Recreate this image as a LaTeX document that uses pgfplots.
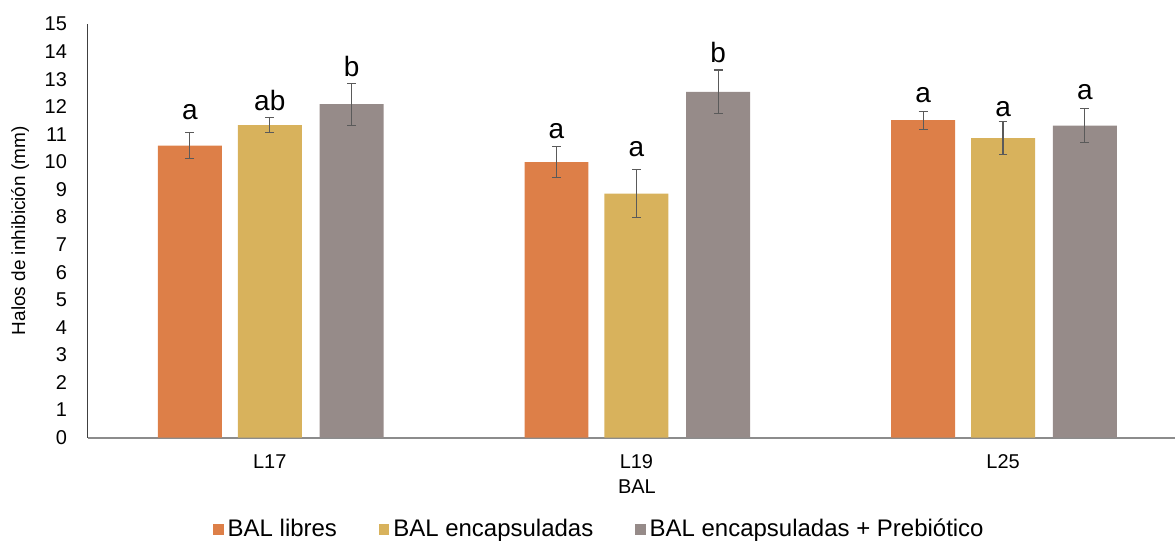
\documentclass[border=0pt]{standalone}
\usepackage{pgfplots}
\usepackage{pgfplotstable}
\pgfplotsset{compat=1.18}
\usepackage{fontspec}
\setmainfont{Liberation Sans}
\definecolor{cOr}{HTML}{DD7F48}
\definecolor{cYe}{HTML}{D8B25C}
\definecolor{cGr}{HTML}{968B89}
\definecolor{cErr}{HTML}{5A5A5A}

\pgfplotstableread{
x      y     e     ly     lab
-0.218 10.59 0.47  11.52  a
0.782  9.99  0.56  10.84  a
1.782  11.51 0.33  12.17  a
}\libres
\pgfplotstableread{
x      y     e     ly     lab
0.000  11.33 0.27  11.86  ab
1.000  8.85  0.86  10.19  a
2.000  10.86 0.60  11.63  a
}\encap
\pgfplotstableread{
x      y     e     ly     lab
0.223  12.09 0.76  13.08  b
1.223  12.54 0.79  13.60  b
2.223  11.31 0.62  12.25  a
}\prebio

\begin{document}
\begin{tikzpicture}
\begin{axis}[
  scale only axis,
  width=544pt, height=207pt,
  xmin=-0.496, xmax=2.469,
  ymin=0, ymax=15,
  ytick={0,1,...,15},
  xtick={0,1,2},
  xticklabels={L17,L19,L25},
  axis x line=bottom, axis y line=left,
  x axis line style={-, draw=black!45, line width=1pt},
  y axis line style={-, draw=black!75, line width=0.5pt},
  major tick length=0pt,
  tick label style={font=\fontsize{10}{12}\selectfont},
  /pgf/number format/assume math mode=true,
  yticklabel style={xshift=-7pt},
  xticklabel style={yshift=-5pt},
  xlabel={BAL},
  xlabel style={at={(axis description cs:0.505,-0.118)}, anchor=center, font=\fontsize{10}{12}\selectfont},
  ylabel={Halos de inhibición (mm)},
  ylabel style={at={(axis description cs:-0.0625,0.5)}, anchor=center, rotate=0, font=\fontsize{9.5}{11}\selectfont},
  legend style={at={(axis description cs:0.4715,-0.222)}, anchor=center, draw=none, fill=none,
    legend columns=3, font=\fontsize{12}{14}\selectfont,
    /tikz/every even column/.append style={column sep=19pt},
    cells={anchor=west}},
  legend image code/.code={\fill[#1,draw=none] (0pt,-2.6pt) rectangle (5.2pt,2.6pt);},
  error bars/error bar style={color=cErr, line width=0.6pt},
  error bars/error mark options={rotate=90, mark size=2.2pt, color=cErr, line width=0.6pt},
]
\addplot[ybar, bar width=32pt, bar shift=0pt, fill=cOr, draw=none,
  error bars/.cd, y dir=both, y explicit]
  table[x=x, y=y, y error=e] {\libres};
\addlegendentry{BAL libres}
\addplot[ybar, bar width=32pt, bar shift=0pt, fill=cYe, draw=none,
  error bars/.cd, y dir=both, y explicit]
  table[x=x, y=y, y error=e] {\encap};
\addlegendentry{BAL encapsuladas}
\addplot[ybar, bar width=32pt, bar shift=0pt, fill=cGr, draw=none,
  error bars/.cd, y dir=both, y explicit]
  table[x=x, y=y, y error=e] {\prebio};
\addlegendentry{BAL encapsuladas + Prebiótico}

\addplot[draw=none, mark=none, forget plot, nodes near coords, point meta=explicit symbolic,
  every node near coord/.append style={anchor=base, font=\fontsize{14}{16}\selectfont, text=black}]
  table[x=x, y=ly, meta=lab] {\libres};
\addplot[draw=none, mark=none, forget plot, nodes near coords, point meta=explicit symbolic,
  every node near coord/.append style={anchor=base, font=\fontsize{14}{16}\selectfont, text=black}]
  table[x=x, y=ly, meta=lab] {\encap};
\addplot[draw=none, mark=none, forget plot, nodes near coords, point meta=explicit symbolic,
  every node near coord/.append style={anchor=base, font=\fontsize{14}{16}\selectfont, text=black}]
  table[x=x, y=ly, meta=lab] {\prebio};
\end{axis}
\path ([shift={(-44pt,-52pt)}]current axis.south west) rectangle ([shift={(0pt,12pt)}]current axis.north east);
\end{tikzpicture}
\end{document}
